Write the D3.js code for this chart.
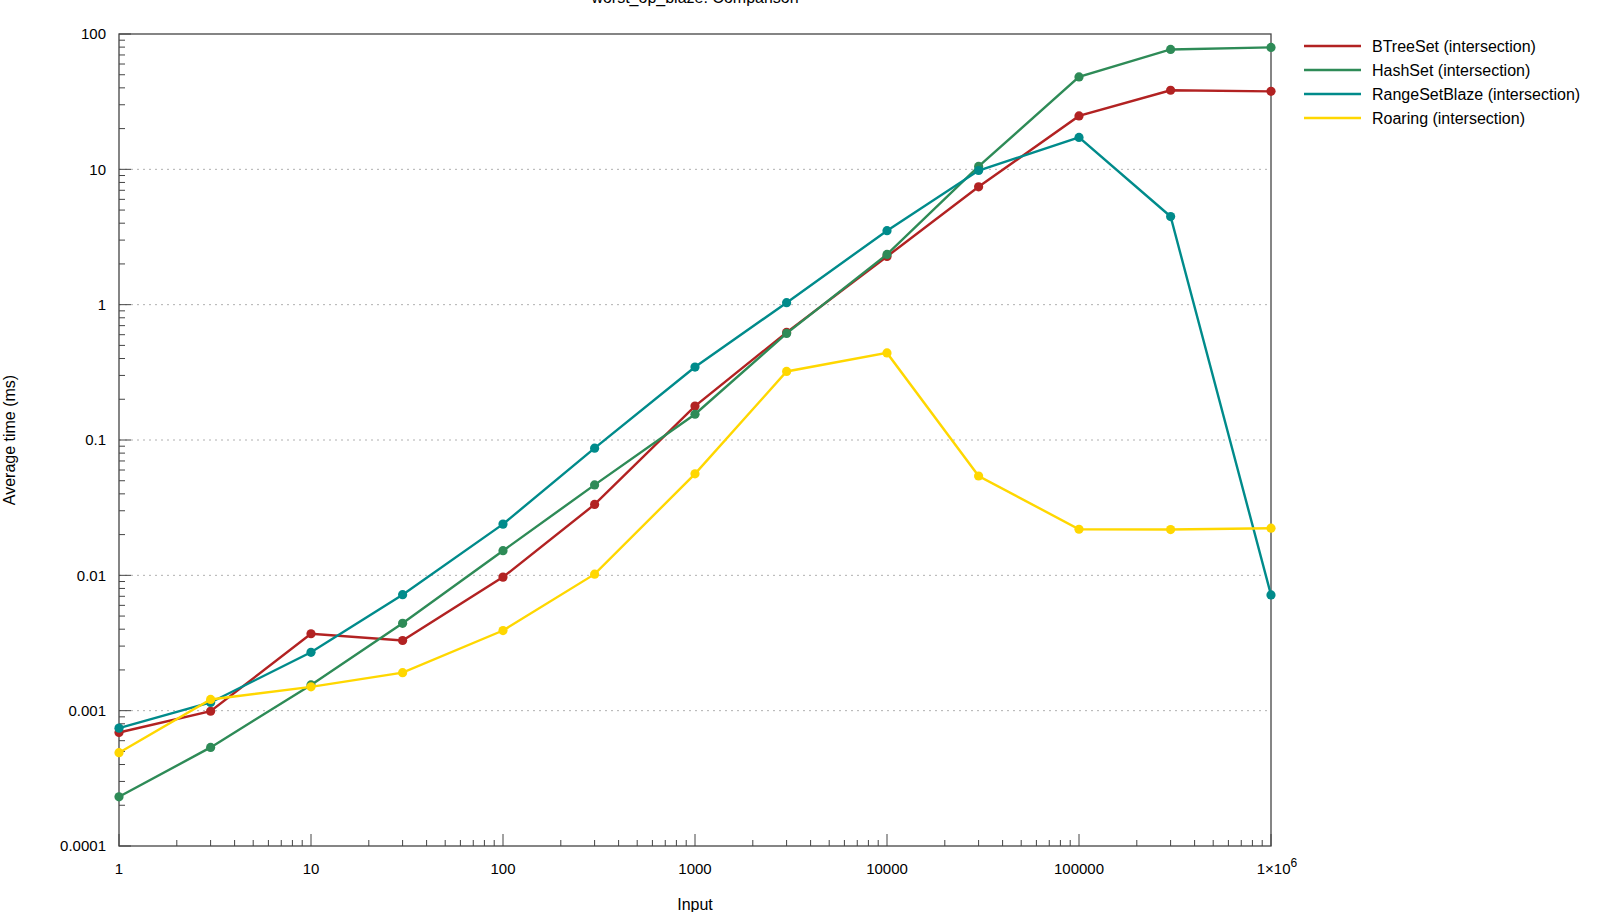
<!DOCTYPE html>
<html><head><meta charset="utf-8">
<script src="https://cdn.jsdelivr.net/npm/d3@7"></script>
<style>body{margin:0;background:#fff}svg{display:block}text{font-family:"Liberation Sans",Arial,sans-serif}</style>
</head><body><svg id="c" width="1608" height="912"></svg>
<script>
const inputs = [1, 3, 10, 30, 100, 300, 1000, 3000, 10000, 30000, 100000, 300000, 1000000];
const btreeset = [0.00069, 0.00099, 0.0037, 0.0033, 0.0097, 0.0334, 0.178, 0.624, 2.27, 7.43, 24.8, 38.4, 37.7];
const hashset = [0.000231, 0.000535, 0.00155, 0.00442, 0.0152, 0.0466, 0.155, 0.613, 2.35, 10.5, 48.2, 76.9, 79.6];
const rangesetblaze = [0.000743, 0.00115, 0.0027, 0.0072, 0.0239, 0.087, 0.346, 1.035, 3.52, 9.8, 17.2, 4.48, 0.00717];
const roaring = [0.000489, 0.00121, 0.0015, 0.00191, 0.00391, 0.0102, 0.0562, 0.321, 0.44, 0.0542, 0.0219, 0.0218, 0.0223];
const seriesNames = ["BTreeSet (intersection)", "HashSet (intersection)", "RangeSetBlaze (intersection)", "Roaring (intersection)"];
const seriesColors = ["#B22222", "#2E8B57", "#008B8B", "#FFD700"];
const yTickValues = [0.0001, 0.001, 0.01, 0.1, 1, 10, 100];
const yTickLabels = ["0.0001", "0.001", "0.01", "0.1", "1", "10", "100"];
const xTickValues = [1, 10, 100, 1000, 10000, 100000, 1000000];
const xTickLabels = ["1", "10", "100", "1000", "10000", "100000", "1×10^6"];
const title = "worst_op_blaze: Comparison";
const xLabel = "Input";
const yLabel = "Average time (ms)";

const series = [btreeset, hashset, rangesetblaze, roaring];
const svg = d3.select("#c");
const L = 119, R = 1271, T = 34, B = 846;
const x = d3.scaleLog().domain([1, 1e6]).range([L, R]);
const y = d3.scaleLog().domain([1e-4, 100]).range([B, T]);
const fs = 15, fl = 16;

// grid
svg.append("g").selectAll("line").data(yTickValues.filter(v => v > 1e-4 && v < 100)).join("line")
  .attr("x1", L).attr("x2", R).attr("y1", d => y(d)).attr("y2", d => y(d))
  .attr("stroke", "#b0b0b0").attr("stroke-width", 1).attr("stroke-dasharray", "2,4");

// minor ticks
const minorX = [];
for (let e = 0; e < 6; e++) for (let m = 2; m <= 9; m++) minorX.push(m * Math.pow(10, e));
const minorY = [];
for (let e = -4; e < 2; e++) for (let m = 2; m <= 9; m++) minorY.push(m * Math.pow(10, e));
const tk = svg.append("g").attr("stroke", "#444").attr("stroke-width", 1);
tk.selectAll(".mx").data(minorX).join("line").attr("x1", d => x(d)).attr("x2", d => x(d)).attr("y1", B).attr("y2", B - 6);
tk.selectAll(".Mx").data(xTickValues).join("line").attr("x1", d => x(d)).attr("x2", d => x(d)).attr("y1", B).attr("y2", B - 12);
tk.selectAll(".my").data(minorY).join("line").attr("y1", d => y(d)).attr("y2", d => y(d)).attr("x1", L).attr("x2", L + 6);
tk.selectAll(".My").data(yTickValues).join("line").attr("y1", d => y(d)).attr("y2", d => y(d)).attr("x1", L).attr("x2", L + 12);

// frame
svg.append("rect").attr("x", L).attr("y", T).attr("width", R - L).attr("height", B - T)
  .attr("fill", "none").attr("stroke", "#444").attr("stroke-width", 1.3);

// tick labels
svg.append("g").selectAll("text").data(yTickValues).join("text")
  .attr("x", L - 13).attr("y", d => y(d)).attr("dy", "0.35em").attr("text-anchor", "end")
  .attr("font-size", fs).attr("fill", "#000").text((d, i) => yTickLabels[i]);
const xl = svg.append("g").selectAll("text").data(xTickValues).join("text")
  .attr("x", d => x(d)).attr("y", B + 28).attr("text-anchor", "middle")
  .attr("font-size", fs).attr("fill", "#000");
xl.each(function (d, i) {
  const s = xTickLabels[i];
  const t = d3.select(this);
  if (s.includes("^")) {
    const [a, b] = s.split("^");
    t.append("tspan").text(a);
    t.append("tspan").attr("dy", -7).attr("font-size", 12).text(b);
    t.attr("dx", 6);
  } else t.text(s);
});

// axis titles
svg.append("text").attr("x", (L + R) / 2).attr("y", 3).attr("text-anchor", "middle").attr("font-size", fl).text(title);
svg.append("text").attr("x", (L + R) / 2).attr("y", 910).attr("text-anchor", "middle").attr("font-size", fl).text(xLabel);
svg.append("text").attr("transform", `translate(9,${(T + B) / 2}) rotate(-90)`).attr("text-anchor", "middle")
  .attr("dy", "0.35em").attr("font-size", fl).text(yLabel);

// series
const line = d3.line().x((d, i) => x(inputs[i])).y(d => y(d));
series.forEach((s, k) => {
  const g = svg.append("g");
  g.append("path").attr("d", line(s)).attr("fill", "none").attr("stroke", seriesColors[k]).attr("stroke-width", 2.4);
  g.selectAll("circle").data(s).join("circle").attr("cx", (d, i) => x(inputs[i])).attr("cy", d => y(d))
    .attr("r", 4.6).attr("fill", seriesColors[k]);
});

// legend
const lg = svg.append("g");
seriesNames.forEach((n, k) => {
  const yy = 46 + k * 24;
  lg.append("line").attr("x1", 1304).attr("x2", 1361).attr("y1", yy).attr("y2", yy)
    .attr("stroke", seriesColors[k]).attr("stroke-width", 2.4);
  lg.append("text").attr("x", 1372).attr("y", yy).attr("dy", "0.35em").attr("font-size", fl).text(n);
});
</script></body></html>
